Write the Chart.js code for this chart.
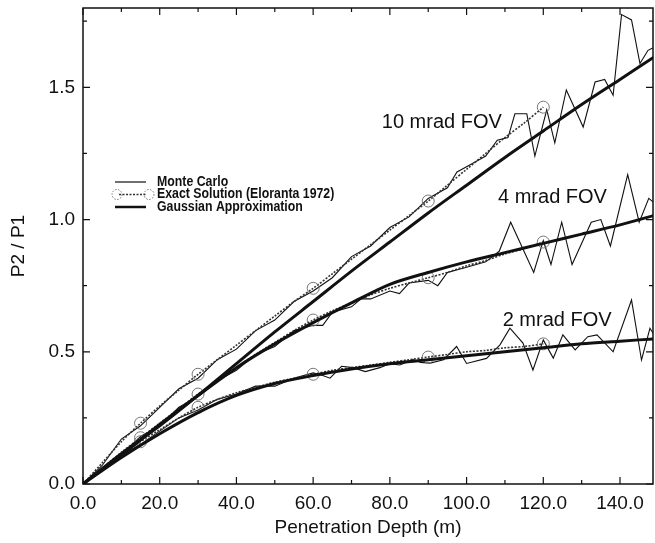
<!DOCTYPE html>
<html>
<head>
<meta charset="utf-8">
<script src="https://cdn.jsdelivr.net/npm/chart.js"></script>
<style>
  html, body { margin: 0; padding: 0; background: #fff; overflow: hidden; }
</style>
</head>
<body>
<canvas id="chart" width="655" height="543"></canvas>
<script>
// ---- data ----
const xTickValues = [0, 20, 40, 60, 80, 100, 120, 140];
const yTickValues = [0, 0.5, 1.0, 1.5];
const legendLabels = ['Monte Carlo', 'Exact Solution (Eloranta 1972)', 'Gaussian Approximation'];

// Gaussian approximation (thick)
const gaussDepth = [0, 10, 20, 30, 40, 50, 60, 70, 80, 90, 100, 110, 120, 130, 140, 150];
const gauss10 = [0, 0.115, 0.22, 0.335, 0.455, 0.575, 0.69, 0.805, 0.915, 1.025, 1.13, 1.235, 1.335, 1.435, 1.53, 1.625];
const gauss4  = [0, 0.11, 0.225, 0.335, 0.44, 0.53, 0.61, 0.685, 0.755, 0.80, 0.84, 0.875, 0.91, 0.945, 0.98, 1.02];
const gauss2  = [0, 0.10, 0.19, 0.27, 0.335, 0.38, 0.41, 0.435, 0.455, 0.47, 0.485, 0.50, 0.515, 0.53, 0.54, 0.55];

// Exact solution (Eloranta 1972), dotted, with circles
const exactDepth = [0, 5, 10, 15, 20, 25, 30, 35, 40, 45, 50, 55, 60, 65, 70, 75, 80, 85, 90, 95, 100, 105, 110, 115, 120];
const exact10 = [0, 0.08, 0.16, 0.23, 0.295, 0.355, 0.415, 0.47, 0.525, 0.58, 0.635, 0.69, 0.74, 0.795, 0.85, 0.905, 0.96, 1.015, 1.07, 1.13, 1.19, 1.25, 1.31, 1.365, 1.425];
const exact4  = [0, 0.06, 0.12, 0.175, 0.23, 0.285, 0.34, 0.39, 0.44, 0.49, 0.535, 0.58, 0.62, 0.655, 0.685, 0.715, 0.74, 0.76, 0.78, 0.80, 0.825, 0.845, 0.87, 0.89, 0.915];
const exact2  = [0, 0.055, 0.11, 0.16, 0.205, 0.25, 0.29, 0.32, 0.345, 0.365, 0.385, 0.40, 0.415, 0.43, 0.44, 0.45, 0.46, 0.47, 0.48, 0.49, 0.50, 0.505, 0.515, 0.52, 0.53];
const circleDepths = [15, 30, 60, 90, 120];

// Monte Carlo (thin, noisy)
const mc10Depth = [0, 5, 10, 15, 20, 25, 30, 35, 40, 45, 50, 55, 60, 65, 70, 75, 80, 85, 90, 95, 97.5, 100, 105, 108, 110.8, 112.6, 115.7, 117.8, 120.9, 123, 126, 130.4, 133.5, 136, 138.2, 140.4, 143, 145.2, 147.3, 150];
const mc10 = [0, 0.07, 0.17, 0.22, 0.29, 0.36, 0.40, 0.47, 0.51, 0.58, 0.62, 0.69, 0.73, 0.78, 0.86, 0.90, 0.97, 1.01, 1.08, 1.12, 1.18, 1.20, 1.24, 1.30, 1.31, 1.40, 1.40, 1.24, 1.415, 1.29, 1.49, 1.35, 1.52, 1.53, 1.47, 1.775, 1.755, 1.59, 1.64, 1.66];

const mc4Depth = [0, 5, 10, 15, 20, 25, 30, 35, 40, 45, 50, 55, 60, 62.5, 65, 70, 72.5, 75, 80, 82.5, 85, 90, 92.5, 95, 100, 105, 108.5, 111.5, 117.5, 120, 122, 124.8, 127.5, 132.5, 135, 137.5, 142, 145, 147.5, 150];
const mc4 = [0, 0.06, 0.11, 0.18, 0.22, 0.29, 0.33, 0.39, 0.43, 0.49, 0.52, 0.58, 0.60, 0.60, 0.65, 0.67, 0.70, 0.70, 0.73, 0.72, 0.76, 0.77, 0.75, 0.80, 0.82, 0.84, 0.88, 0.99, 0.80, 0.92, 0.83, 0.99, 0.83, 0.99, 1.00, 0.90, 1.17, 0.99, 1.08, 1.05];

const mc2Depth = [0, 5, 10, 15, 20, 25, 30, 35, 40, 45, 50, 55, 60, 62.5, 64.4, 67.4, 70.4, 73.6, 77.4, 80, 82.6, 86, 88, 90.5, 94, 97.4, 100, 105.2, 108.7, 111.3, 114.7, 117.3, 120, 122.6, 125.1, 128.3, 131.6, 134, 138.2, 143, 145.6, 147.8, 150];
const mc2 = [0, 0.05, 0.11, 0.15, 0.20, 0.25, 0.28, 0.32, 0.34, 0.37, 0.37, 0.40, 0.42, 0.41, 0.40, 0.445, 0.44, 0.425, 0.44, 0.455, 0.45, 0.47, 0.46, 0.457, 0.47, 0.52, 0.456, 0.475, 0.526, 0.589, 0.533, 0.431, 0.545, 0.476, 0.564, 0.507, 0.557, 0.564, 0.50, 0.696, 0.469, 0.589, 0.54];

const curveLabels = [
  { text: '10 mrad FOV', x: 77.9, y: 1.345 },
  { text: '4 mrad FOV', x: 108.2, y: 1.062 },
  { text: '2 mrad FOV', x: 109.4, y: 0.598 }
];

// ---- styling ----
const ink = '#111';
const pts = (xs, ys) => xs.map((x, i) => ({ x: x, y: ys[i] }));

function gaussSet(ys) {
  return { data: pts(gaussDepth, ys), borderColor: ink, borderWidth: 3, pointRadius: 0, tension: 0.3, order: 1 };
}
function exactSet(ys) {
  return {
    data: pts(exactDepth, ys), borderColor: '#333', borderWidth: 1.6, borderDash: [2, 1.5],
    tension: 0.3, order: 2,
    pointRadius: c => (c.raw && circleDepths.includes(c.raw.x)) ? 6 : 0,
    pointBorderColor: '#777', pointBorderWidth: 1, pointBackgroundColor: 'rgba(0,0,0,0)'
  };
}
function mcSet(xs, ys) {
  return { data: pts(xs, ys), borderColor: ink, borderWidth: 1.1, pointRadius: 0, tension: 0, order: 3 };
}

// frame + inward ticks on all four sides, curve labels, legend
const framePlugin = {
  id: 'frame',
  afterDatasetsDraw(chart) {
    const { ctx, chartArea: a, scales } = chart;
    ctx.save();
    ctx.strokeStyle = ink;
    ctx.lineWidth = 1.5;
    ctx.strokeRect(a.left, a.top, a.right - a.left, a.bottom - a.top);
    ctx.lineWidth = 1.2;
    ctx.beginPath();
    for (let v = 0; v <= 148; v += 10) {
      const px = scales.x.getPixelForValue(v);
      const len = v % 20 === 0 ? 7 : 4;
      ctx.moveTo(px, a.bottom); ctx.lineTo(px, a.bottom - len);
      ctx.moveTo(px, a.top); ctx.lineTo(px, a.top + len);
    }
    for (let v = 0; v <= 1.8; v += 0.25) {
      const py = scales.y.getPixelForValue(v);
      const len = Math.abs(v * 2 - Math.round(v * 2)) < 1e-6 ? 7 : 4;
      ctx.moveTo(a.left, py); ctx.lineTo(a.left + len, py);
      ctx.moveTo(a.right, py); ctx.lineTo(a.right - len, py);
    }
    ctx.stroke();

    // curve labels
    ctx.fillStyle = ink;
    ctx.font = '20px "Liberation Sans", Arial, sans-serif';
    ctx.textBaseline = 'alphabetic';
    curveLabels.forEach(l => {
      ctx.fillText(l.text, scales.x.getPixelForValue(l.x), scales.y.getPixelForValue(l.y));
    });

    // legend box
    ctx.textBaseline = 'middle';
    legendLabels.forEach((label, i) => {
      const y = 182 + i * 12.5;
      ctx.save();
      if (i === 0) {
        ctx.lineWidth = 1.2; ctx.beginPath(); ctx.moveTo(115, y); ctx.lineTo(146, y); ctx.stroke();
      } else if (i === 1) {
        ctx.strokeStyle = '#777'; ctx.lineWidth = 1; ctx.setLineDash([1.5, 1.5]);
        ctx.beginPath(); ctx.arc(117, y, 5, 0, Math.PI * 2); ctx.stroke();
        ctx.beginPath(); ctx.arc(149, y, 5, 0, Math.PI * 2); ctx.stroke();
        ctx.strokeStyle = '#333'; ctx.lineWidth = 1.6; ctx.setLineDash([2, 1.5]);
        ctx.beginPath(); ctx.moveTo(119, y); ctx.lineTo(147, y); ctx.stroke();
      } else {
        ctx.lineWidth = 2.5; ctx.beginPath(); ctx.moveTo(115, y); ctx.lineTo(146, y); ctx.stroke();
      }
      ctx.translate(157, y);
      ctx.scale(0.88, 1);
      ctx.font = 'bold 14px "Liberation Sans", Arial, sans-serif';
      ctx.fillText(label, 0, 0);
      ctx.restore();
    });
    ctx.restore();
  }
};

Chart.defaults.font.family = '"Liberation Sans", Arial, sans-serif';
Chart.defaults.color = ink;

new Chart(document.getElementById('chart'), {
  type: 'line',
  data: {
    datasets: [
      gaussSet(gauss10), gaussSet(gauss4), gaussSet(gauss2),
      exactSet(exact10), exactSet(exact4), exactSet(exact2),
      mcSet(mc10Depth, mc10), mcSet(mc4Depth, mc4), mcSet(mc2Depth, mc2)
    ]
  },
  options: {
    responsive: false,
    animation: false,
    devicePixelRatio: 1,
    layout: { autoPadding: false, padding: { top: 8, right: 2, left: 0, bottom: 0 } },
    plugins: { legend: { display: false }, tooltip: { enabled: false } },
    scales: {
      x: {
        type: 'linear', min: 0, max: 148.6,
        afterBuildTicks: s => { s.ticks = xTickValues.map(v => ({ value: v })); },
        afterFit: s => { s.height = 59; s.paddingLeft = 0; s.paddingRight = 0; },
        grid: { display: false, drawTicks: false },
        border: { display: false },
        ticks: { padding: 8, font: { size: 19 }, callback: v => v.toFixed(1), maxRotation: 0 },
        title: { display: true, text: 'Penetration Depth (m)', font: { size: 19 }, padding: { top: 0, bottom: 4 } }
      },
      y: {
        type: 'linear', min: 0, max: 1.8,
        afterBuildTicks: s => { s.ticks = yTickValues.map(v => ({ value: v })); },
        afterFit: s => { s.width = 83; s.paddingTop = 0; s.paddingBottom = 0; },
        grid: { display: false, drawTicks: false },
        border: { display: false },
        ticks: { padding: 8, font: { size: 19 }, callback: v => v.toFixed(1) },
        title: { display: true, text: 'P2 / P1', font: { size: 19 }, padding: { top: 7, bottom: 0 } }
      }
    }
  },
  plugins: [framePlugin]
});
</script>
</body>
</html>
